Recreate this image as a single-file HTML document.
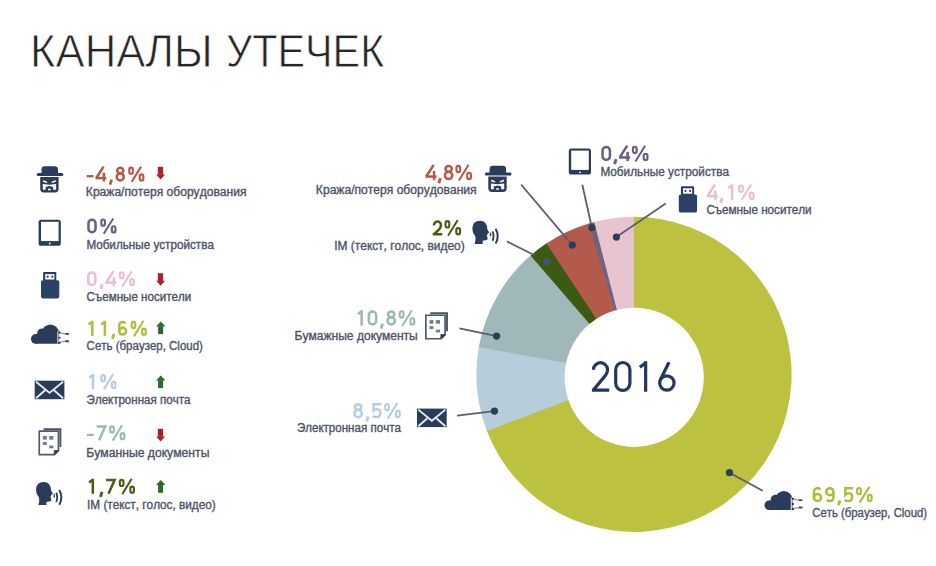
<!DOCTYPE html>
<html><head><meta charset="utf-8"><style>
html,body{margin:0;padding:0;background:#fff;width:936px;height:566px;overflow:hidden}
body{position:relative;font-family:"Liberation Sans",sans-serif}
text{font-kerning:none}
</style></head><body>
<svg width="936" height="566" viewBox="0 0 936 566" style="position:absolute;left:0;top:0" font-family="Liberation Sans, sans-serif">
<rect width="936" height="566" fill="#fff"/>
<text x="30.12" y="67.10" font-size="46.8" font-weight="400" fill="#262626" textLength="182.57" lengthAdjust="spacingAndGlyphs" stroke="#fff" stroke-width="0.8">КАНАЛЫ</text>
<text x="225.89" y="67.10" font-size="46.8" font-weight="400" fill="#262626" textLength="158.45" lengthAdjust="spacingAndGlyphs" stroke="#fff" stroke-width="0.8">УТЕЧЕК</text>
<g>
<path d="M633.80,375.20 L632.694,216.805 A157.6,157.6 0 1 1 486.523,429.972 Z" fill="#bcc13f"/>
<path d="M633.80,375.20 L486.913,430.997 A157.6,157.6 0 0 1 478.965,346.083 Z" fill="#b7cddc"/>
<path d="M633.80,375.20 L478.771,347.166 A157.6,157.6 0 0 1 531.346,254.817 Z" fill="#a0b8b9"/>
<path d="M633.80,375.20 L530.512,255.539 A157.6,157.6 0 0 1 547.313,242.782 Z" fill="#3d5a12"/>
<path d="M633.80,375.20 L546.393,243.393 A157.6,157.6 0 0 1 589.632,223.174 Z" fill="#b35a4b"/>
<path d="M633.80,375.20 L588.573,223.489 A157.6,157.6 0 0 1 595.229,221.643 Z" fill="#6e6482"/>
<path d="M633.80,375.20 L594.159,221.919 A157.6,157.6 0 0 1 633.800,216.800 Z" fill="#e8c4d0"/>
</g>
<circle cx="634.2" cy="377.3" r="69.6" fill="#fff"/>
<g fill="none" stroke="#25375a" stroke-width="3.2">
<path d="M593.4,369.8 A7.1,7.1 0 0 1 607.6,369.8 C607.6,372.4 606.7,373.9 605.4,375.6 L593.3,390.1 M591.9,390.1 H609.2"/>
<rect x="615.7" y="362.5" width="14.2" height="27.9" rx="7.1"/>
<path d="M645.65,361.3 V391.7 M645.65,362.9 L639.8,367.3"/>
<circle cx="666.85" cy="383.0" r="7.2"/>
<path d="M660.4,379.8 L669.0,362.2"/>
</g>
<line x1="521.1" y1="184.5" x2="572.3" y2="245.2" stroke="#5a5e72" stroke-width="1.8"/>
<line x1="582.3" y1="184.8" x2="591.9" y2="227.7" stroke="#5a5e72" stroke-width="1.8"/>
<line x1="665.7" y1="203.6" x2="616.4" y2="237.1" stroke="#5a5e72" stroke-width="1.8"/>
<line x1="506.9" y1="241.4" x2="534.5" y2="255.2" stroke="#5a5e72" stroke-width="1.8"/>
<line x1="459.5" y1="328.4" x2="496.6" y2="336.1" stroke="#5a5e72" stroke-width="1.8"/>
<line x1="457.0" y1="415.6" x2="494.5" y2="411.1" stroke="#5a5e72" stroke-width="1.8"/>
<line x1="762.7" y1="490.7" x2="729.5" y2="472.7" stroke="#5a5e72" stroke-width="1.8"/>
<circle cx="572.3" cy="245.2" r="3.6" fill="#2d3f58"/>
<circle cx="591.9" cy="227.7" r="3.6" fill="#2d3f58"/>
<circle cx="616.4" cy="237.1" r="3.6" fill="#2d3f58"/>
<circle cx="546.9" cy="261.4" r="3.6" fill="#40527e"/>
<circle cx="496.6" cy="336.1" r="3.6" fill="#2d3f58"/>
<circle cx="494.5" cy="411.1" r="3.6" fill="#2d3f58"/>
<circle cx="729.5" cy="472.7" r="3.6" fill="#2d3f58"/>
<g fill="none" stroke="#b5584a" stroke-width="0.1623"><g transform="translate(425.50,180.20) scale(15.400)"><path d="M0.53,-1 L0.0487,-0.24"/><path d="M0,-0.235 H0.7200"/><path d="M0.555,-0.6 V0"/></g><g transform="translate(438.07,180.20) scale(15.400)"><path d="M0.15,-0.13 L0.05,0.2" stroke-width="0.1867"/></g><g transform="translate(443.69,180.20) scale(15.400)"><ellipse cx="0.3200" cy="-0.7350" rx="0.2050" ry="0.1850"/><ellipse cx="0.3200" cy="-0.3100" rx="0.2388" ry="0.2350"/></g><g transform="translate(455.37,180.20) scale(15.400)"><rect x="0.0690" y="-0.9310" width="0.2420" height="0.4120" rx="0.1210" stroke-width="0.1380"/><rect x="0.7690" y="-0.4810" width="0.2420" height="0.4120" rx="0.1210" stroke-width="0.1380"/><path d="M0.86,-1.0 L0.23,0.02" stroke-width="0.1299"/></g></g>
<text x="315.88" y="193.50" font-size="12" font-weight="400" fill="#4b5264" stroke="#4b5264" stroke-width="0.35" textLength="160.78" lengthAdjust="spacingAndGlyphs">Кража/потеря оборудования</text>
<g fill="none" stroke="#6c5d78" stroke-width="0.1623"><g transform="translate(601.30,161.10) scale(15.400)"><rect x="0.0812" y="-0.9188" width="0.4777" height="0.8377" rx="0.2388"/></g><g transform="translate(613.81,161.10) scale(15.400)"><path d="M0.15,-0.13 L0.05,0.2" stroke-width="0.1867"/></g><g transform="translate(619.05,161.10) scale(15.400)"><path d="M0.53,-1 L0.0487,-0.24"/><path d="M0,-0.235 H0.7200"/><path d="M0.555,-0.6 V0"/></g><g transform="translate(631.87,161.10) scale(15.400)"><rect x="0.0690" y="-0.9310" width="0.2420" height="0.4120" rx="0.1210" stroke-width="0.1380"/><rect x="0.7690" y="-0.4810" width="0.2420" height="0.4120" rx="0.1210" stroke-width="0.1380"/><path d="M0.86,-1.0 L0.23,0.02" stroke-width="0.1299"/></g></g>
<text x="600.51" y="175.50" font-size="12" font-weight="400" fill="#4b5264" stroke="#4b5264" stroke-width="0.35" textLength="128.52" lengthAdjust="spacingAndGlyphs">Мобильные устройства</text>
<g fill="none" stroke="#e9bfcb" stroke-width="0.1623"><g transform="translate(706.80,199.90) scale(15.400)"><path d="M0.53,-1 L0.0487,-0.24"/><path d="M0,-0.235 H0.7200"/><path d="M0.555,-0.6 V0"/></g><g transform="translate(719.92,199.90) scale(15.400)"><path d="M0.15,-0.13 L0.05,0.2" stroke-width="0.1867"/></g><g transform="translate(727.63,199.90) scale(15.400)"><path d="M0.2888,-1 V0"/><path d="M0.2888,-0.9351 L0.04,-0.75"/></g><g transform="translate(737.97,199.90) scale(15.400)"><rect x="0.0690" y="-0.9310" width="0.2420" height="0.4120" rx="0.1210" stroke-width="0.1380"/><rect x="0.7690" y="-0.4810" width="0.2420" height="0.4120" rx="0.1210" stroke-width="0.1380"/><path d="M0.86,-1.0 L0.23,0.02" stroke-width="0.1299"/></g></g>
<text x="706.38" y="214.30" font-size="12" font-weight="400" fill="#4b5264" stroke="#4b5264" stroke-width="0.35" textLength="105.25" lengthAdjust="spacingAndGlyphs">Съемные носители</text>
<g fill="none" stroke="#4a5c14" stroke-width="0.1623"><g transform="translate(432.70,235.50) scale(15.400)"><path d="M0.0812,-0.6600 A0.2288,0.2288 0 0 1 0.5388,-0.6900 C0.5388,-0.5700 0.5088,-0.5000 0.4488,-0.4300 L0.0912,-0.0812"/><path d="M0,-0.0812 H0.6200"/></g><g transform="translate(444.47,235.50) scale(15.400)"><rect x="0.0690" y="-0.9310" width="0.2420" height="0.4120" rx="0.1210" stroke-width="0.1380"/><rect x="0.7690" y="-0.4810" width="0.2420" height="0.4120" rx="0.1210" stroke-width="0.1380"/><path d="M0.86,-1.0 L0.23,0.02" stroke-width="0.1299"/></g></g>
<text x="334.27" y="249.80" font-size="12" font-weight="400" fill="#4b5264" stroke="#4b5264" stroke-width="0.35" textLength="130.39" lengthAdjust="spacingAndGlyphs">IM (текст, голос, видео)</text>
<g fill="none" stroke="#9bb8b1" stroke-width="0.1623"><g transform="translate(357.20,325.60) scale(15.400)"><path d="M0.2888,-1 V0"/><path d="M0.2888,-0.9351 L0.04,-0.75"/></g><g transform="translate(367.57,325.60) scale(15.400)"><rect x="0.0812" y="-0.9188" width="0.4777" height="0.8377" rx="0.2388"/></g><g transform="translate(380.29,325.60) scale(15.400)"><path d="M0.15,-0.13 L0.05,0.2" stroke-width="0.1867"/></g><g transform="translate(386.26,325.60) scale(15.400)"><ellipse cx="0.3200" cy="-0.7350" rx="0.2050" ry="0.1850"/><ellipse cx="0.3200" cy="-0.3100" rx="0.2388" ry="0.2350"/></g><g transform="translate(398.67,325.60) scale(15.400)"><rect x="0.0690" y="-0.9310" width="0.2420" height="0.4120" rx="0.1210" stroke-width="0.1380"/><rect x="0.7690" y="-0.4810" width="0.2420" height="0.4120" rx="0.1210" stroke-width="0.1380"/><path d="M0.86,-1.0 L0.23,0.02" stroke-width="0.1299"/></g></g>
<text x="294.59" y="340.00" font-size="12" font-weight="400" fill="#4b5264" stroke="#4b5264" stroke-width="0.35" textLength="123.17" lengthAdjust="spacingAndGlyphs">Бумажные документы</text>
<g fill="none" stroke="#b5cde0" stroke-width="0.1623"><g transform="translate(353.20,418.30) scale(15.400)"><ellipse cx="0.3200" cy="-0.7350" rx="0.2050" ry="0.1850"/><ellipse cx="0.3200" cy="-0.3100" rx="0.2388" ry="0.2350"/></g><g transform="translate(365.87,418.30) scale(15.400)"><path d="M0.15,-0.13 L0.05,0.2" stroke-width="0.1867"/></g><g transform="translate(371.97,418.30) scale(15.400)"><path d="M0.6000,-0.9188 H0.1012 V-0.5 C0.16,-0.57 0.24,-0.595 0.33,-0.595 C0.5288,-0.595 0.5388,-0.48 0.5388,-0.33 C0.5388,-0.15 0.46,-0.0812 0.3,-0.0812 C0.2,-0.0812 0.11,-0.1 0.05,-0.16"/></g><g transform="translate(384.17,418.30) scale(15.400)"><rect x="0.0690" y="-0.9310" width="0.2420" height="0.4120" rx="0.1210" stroke-width="0.1380"/><rect x="0.7690" y="-0.4810" width="0.2420" height="0.4120" rx="0.1210" stroke-width="0.1380"/><path d="M0.86,-1.0 L0.23,0.02" stroke-width="0.1299"/></g></g>
<text x="296.88" y="432.00" font-size="12" font-weight="400" fill="#4b5264" stroke="#4b5264" stroke-width="0.35" textLength="104.14" lengthAdjust="spacingAndGlyphs">Электронная почта</text>
<g fill="none" stroke="#b0bb3a" stroke-width="0.1623"><g transform="translate(812.70,502.30) scale(15.400)"><path d="M0.4993,-0.8290 A0.2338,0.2338 0 0 0 0.0812,-0.6850 V-0.3150"/><rect x="0.0812" y="-0.5388" width="0.4677" height="0.4577" rx="0.2338"/></g><g transform="translate(824.98,502.30) scale(15.400)"><path d="M0.1307,-0.1710 A0.2338,0.2338 0 0 0 0.5488,-0.3150 V-0.6850"/><rect x="0.0812" y="-0.9188" width="0.4677" height="0.4577" rx="0.2338"/></g><g transform="translate(837.65,502.30) scale(15.400)"><path d="M0.15,-0.13 L0.05,0.2" stroke-width="0.1867"/></g><g transform="translate(843.79,502.30) scale(15.400)"><path d="M0.6000,-0.9188 H0.1012 V-0.5 C0.16,-0.57 0.24,-0.595 0.33,-0.595 C0.5288,-0.595 0.5388,-0.48 0.5388,-0.33 C0.5388,-0.15 0.46,-0.0812 0.3,-0.0812 C0.2,-0.0812 0.11,-0.1 0.05,-0.16"/></g><g transform="translate(856.07,502.30) scale(15.400)"><rect x="0.0690" y="-0.9310" width="0.2420" height="0.4120" rx="0.1210" stroke-width="0.1380"/><rect x="0.7690" y="-0.4810" width="0.2420" height="0.4120" rx="0.1210" stroke-width="0.1380"/><path d="M0.86,-1.0 L0.23,0.02" stroke-width="0.1299"/></g></g>
<text x="812.30" y="517.00" font-size="12" font-weight="400" fill="#4b5264" stroke="#4b5264" stroke-width="0.35" textLength="114.73" lengthAdjust="spacingAndGlyphs">Сеть (браузер, Cloud)</text>
<g fill="none" stroke="#b5584a" stroke-width="0.1667"><g transform="translate(86.70,181.60) scale(15.000)"><path d="M0,-0.36 H0.45" stroke-width="0.1500"/></g><g transform="translate(95.58,181.60) scale(15.000)"><path d="M0.53,-1 L0.0500,-0.24"/><path d="M0,-0.235 H0.7200"/><path d="M0.555,-0.6 V0"/></g><g transform="translate(109.31,181.60) scale(15.000)"><path d="M0.15,-0.13 L0.05,0.2" stroke-width="0.1917"/></g><g transform="translate(115.44,181.60) scale(15.000)"><ellipse cx="0.3200" cy="-0.7350" rx="0.2050" ry="0.1850"/><ellipse cx="0.3200" cy="-0.3100" rx="0.2367" ry="0.2350"/></g><g transform="translate(128.20,181.60) scale(15.000)"><rect x="0.0708" y="-0.9292" width="0.2383" height="0.4083" rx="0.1192" stroke-width="0.1417"/><rect x="0.7708" y="-0.4792" width="0.2383" height="0.4083" rx="0.1192" stroke-width="0.1417"/><path d="M0.86,-1.0 L0.23,0.02" stroke-width="0.1333"/></g></g>
<text x="85.89" y="195.70" font-size="12" font-weight="400" fill="#4b5264" stroke="#4b5264" stroke-width="0.35" textLength="160.58" lengthAdjust="spacingAndGlyphs">Кража/потеря оборудования</text>
<g fill="#a9232f"><rect x="157.8" y="166.80" width="5.3" height="8.0"/><path d="M156.1,174.40 L165.1,174.40 L160.6,179.40 Z"/></g>
<g fill="none" stroke="#6c5d78" stroke-width="0.1667"><g transform="translate(87.20,233.50) scale(15.000)"><rect x="0.0833" y="-0.9167" width="0.4733" height="0.8333" rx="0.2367"/></g><g transform="translate(100.30,233.50) scale(15.000)"><rect x="0.0708" y="-0.9292" width="0.2383" height="0.4083" rx="0.1192" stroke-width="0.1417"/><rect x="0.7708" y="-0.4792" width="0.2383" height="0.4083" rx="0.1192" stroke-width="0.1417"/><path d="M0.86,-1.0 L0.23,0.02" stroke-width="0.1333"/></g></g>
<text x="86.42" y="249.20" font-size="12" font-weight="400" fill="#4b5264" stroke="#4b5264" stroke-width="0.35" textLength="127.51" lengthAdjust="spacingAndGlyphs">Мобильные устройства</text>
<g fill="none" stroke="#e9bfcb" stroke-width="0.1667"><g transform="translate(87.00,286.20) scale(15.000)"><rect x="0.0833" y="-0.9167" width="0.4733" height="0.8333" rx="0.2367"/></g><g transform="translate(100.01,286.20) scale(15.000)"><path d="M0.15,-0.13 L0.05,0.2" stroke-width="0.1917"/></g><g transform="translate(105.47,286.20) scale(15.000)"><path d="M0.53,-1 L0.0500,-0.24"/><path d="M0,-0.235 H0.7200"/><path d="M0.555,-0.6 V0"/></g><g transform="translate(118.80,286.20) scale(15.000)"><rect x="0.0708" y="-0.9292" width="0.2383" height="0.4083" rx="0.1192" stroke-width="0.1417"/><rect x="0.7708" y="-0.4792" width="0.2383" height="0.4083" rx="0.1192" stroke-width="0.1417"/><path d="M0.86,-1.0 L0.23,0.02" stroke-width="0.1333"/></g></g>
<text x="86.59" y="301.00" font-size="12" font-weight="400" fill="#4b5264" stroke="#4b5264" stroke-width="0.35" textLength="104.64" lengthAdjust="spacingAndGlyphs">Съемные носители</text>
<g fill="#a9232f"><rect x="157.8" y="273.20" width="5.3" height="8.0"/><path d="M156.1,280.80 L165.1,280.80 L160.6,285.80 Z"/></g>
<g fill="none" stroke="#b0bb3a" stroke-width="0.1667"><g transform="translate(88.00,335.80) scale(15.000)"><path d="M0.2867,-1 V0"/><path d="M0.2867,-0.9333 L0.04,-0.75"/></g><g transform="translate(100.59,335.80) scale(15.000)"><path d="M0.2867,-1 V0"/><path d="M0.2867,-0.9333 L0.04,-0.75"/></g><g transform="translate(111.72,335.80) scale(15.000)"><path d="M0.15,-0.13 L0.05,0.2" stroke-width="0.1917"/></g><g transform="translate(117.93,335.80) scale(15.000)"><path d="M0.4976,-0.8276 A0.2317,0.2317 0 0 0 0.0833,-0.6850 V-0.3150"/><rect x="0.0833" y="-0.5367" width="0.4633" height="0.4533" rx="0.2317"/></g><g transform="translate(130.60,335.80) scale(15.000)"><rect x="0.0708" y="-0.9292" width="0.2383" height="0.4083" rx="0.1192" stroke-width="0.1417"/><rect x="0.7708" y="-0.4792" width="0.2383" height="0.4083" rx="0.1192" stroke-width="0.1417"/><path d="M0.86,-1.0 L0.23,0.02" stroke-width="0.1333"/></g></g>
<text x="86.59" y="350.00" font-size="12" font-weight="400" fill="#4b5264" stroke="#4b5264" stroke-width="0.35" textLength="116.35" lengthAdjust="spacingAndGlyphs">Сеть (браузер, Cloud)</text>
<g fill="#2b6a2c"><path d="M160.7,321.40 L165.5,326.40 L156.0,326.40 Z"/><rect x="158.1" y="326.20" width="5.0" height="7.9"/></g>
<g fill="none" stroke="#b5cde0" stroke-width="0.1667"><g transform="translate(88.70,389.10) scale(15.000)"><path d="M0.2867,-1 V0"/><path d="M0.2867,-0.9333 L0.04,-0.75"/></g><g transform="translate(100.30,389.10) scale(15.000)"><rect x="0.0708" y="-0.9292" width="0.2383" height="0.4083" rx="0.1192" stroke-width="0.1417"/><rect x="0.7708" y="-0.4792" width="0.2383" height="0.4083" rx="0.1192" stroke-width="0.1417"/><path d="M0.86,-1.0 L0.23,0.02" stroke-width="0.1333"/></g></g>
<text x="86.58" y="403.60" font-size="12" font-weight="400" fill="#4b5264" stroke="#4b5264" stroke-width="0.35" textLength="103.84" lengthAdjust="spacingAndGlyphs">Электронная почта</text>
<g fill="#2b6a2c"><path d="M160.7,375.40 L165.5,380.40 L156.0,380.40 Z"/><rect x="158.1" y="380.20" width="5.0" height="7.9"/></g>
<g fill="none" stroke="#9bb8b1" stroke-width="0.1667"><g transform="translate(87.00,440.30) scale(15.000)"><path d="M0,-0.36 H0.45" stroke-width="0.1500"/></g><g transform="translate(96.65,440.30) scale(15.000)"><path d="M0,-0.9167 H0.5700 L0.16,0"/></g><g transform="translate(109.20,440.30) scale(15.000)"><rect x="0.0708" y="-0.9292" width="0.2383" height="0.4083" rx="0.1192" stroke-width="0.1417"/><rect x="0.7708" y="-0.4792" width="0.2383" height="0.4083" rx="0.1192" stroke-width="0.1417"/><path d="M0.86,-1.0 L0.23,0.02" stroke-width="0.1333"/></g></g>
<text x="86.17" y="457.00" font-size="12" font-weight="400" fill="#4b5264" stroke="#4b5264" stroke-width="0.35" textLength="123.30" lengthAdjust="spacingAndGlyphs">Буманные документы</text>
<g fill="#a9232f"><rect x="157.8" y="428.80" width="5.3" height="8.0"/><path d="M156.1,436.40 L165.1,436.40 L160.6,441.40 Z"/></g>
<g fill="none" stroke="#4a5c14" stroke-width="0.1667"><g transform="translate(88.50,493.80) scale(15.000)"><path d="M0.2867,-1 V0"/><path d="M0.2867,-0.9333 L0.04,-0.75"/></g><g transform="translate(99.74,493.80) scale(15.000)"><path d="M0.15,-0.13 L0.05,0.2" stroke-width="0.1917"/></g><g transform="translate(106.09,493.80) scale(15.000)"><path d="M0,-0.9167 H0.5700 L0.16,0"/></g><g transform="translate(118.80,493.80) scale(15.000)"><rect x="0.0708" y="-0.9292" width="0.2383" height="0.4083" rx="0.1192" stroke-width="0.1417"/><rect x="0.7708" y="-0.4792" width="0.2383" height="0.4083" rx="0.1192" stroke-width="0.1417"/><path d="M0.86,-1.0 L0.23,0.02" stroke-width="0.1333"/></g></g>
<text x="87.09" y="509.20" font-size="12" font-weight="400" fill="#4b5264" stroke="#4b5264" stroke-width="0.35" textLength="128.67" lengthAdjust="spacingAndGlyphs">IM (текст, голос, видео)</text>
<g fill="#2b6a2c"><path d="M160.7,480.10 L165.5,485.10 L156.0,485.10 Z"/><rect x="158.1" y="484.90" width="5.0" height="7.9"/></g>
<g transform="translate(0,0)" fill="#2a3c5a">
<path d="M489.6,173.6 L489.6,169 Q489.6,165.7 493,165.7 L502.7,165.7 Q506.1,165.7 506.1,169 L506.1,173.6 Z"/>
<rect x="484.8" y="172.4" width="26.7" height="3.0" rx="1.5"/>
<path d="M488.3,176.6 L506.7,176.6 L506.7,188.3 Q506.7,191.9 503.1,191.9 L491.9,191.9 Q488.3,191.9 488.3,188.3 Z"/>
<path d="M491.2,179.6 L495.2,181.2 L495.2,182.6 L491.2,181.6 Z" fill="#fff"/>
<path d="M503.8,179.6 L499.8,181.2 L499.8,182.6 L503.8,181.6 Z" fill="#fff"/>
<path d="M490.9,183.4 L497.5,184.2 L504.2,183.4 L504.2,189.2 L501.2,189.2 L501.2,186.6 L497.5,185.6 L493.8,186.6 L493.8,189.2 L490.9,189.2 Z" fill="#fff"/>
<rect x="496.2" y="188.2" width="2.6" height="1.6" fill="#fff"/>
</g>
<g transform="translate(0,0)">
<rect x="568.8" y="148.5" width="22.2" height="26.1" rx="2.6" fill="#2a3c5a"/>
<rect x="571.2" y="150.6" width="17.6" height="19.3" fill="#fff"/>
<circle cx="579.9" cy="172.3" r="0.9" fill="#fff"/>
</g>
<g transform="translate(0,0)" fill="#2a3c5a">
<rect x="680.9" y="186.2" width="13.2" height="9" rx="0.8"/>
<rect x="683.0" y="188.3" width="9.2" height="5.4" fill="#fff"/>
<circle cx="685.5" cy="190.9" r="1.1"/>
<circle cx="690.1" cy="190.9" r="1.1"/>
<rect x="678.8" y="194.4" width="18.3" height="18.2" rx="1.8" fill="#2b4165"/>
</g>
<g transform="translate(0,0)">
<g fill="#2a3c5a">
<circle cx="769.3" cy="505.25" r="4.85"/>
<circle cx="775.6" cy="499.6" r="4.9"/>
<circle cx="783.8" cy="499.5" r="8.6"/>
<path d="M769.3,500.4 L792.6,500.4 L792.6,509.2 Q792.6,510.1 791.7,510.1 L769.3,510.1 Z"/>
</g>
<rect x="790.7" y="497.6" width="1.5" height="12.4" fill="#c3d0e0"/>
<g fill="#222b38"><rect x="791.9" y="497.8" width="2.0" height="2.0"/><rect x="791.9" y="503.1" width="2.0" height="1.8"/><rect x="791.9" y="508.1" width="2.0" height="2.0"/></g>
<path d="M793.5,499.2 L798.5,500.2 M793.5,508.6 L798.5,507.5" stroke="#6a7080" stroke-width="0.9" fill="none"/>
<g fill="#3a4458"><rect x="798.6" y="499.2" width="3.9" height="1.9" rx="0.6"/><rect x="798.6" y="506.6" width="3.9" height="1.9" rx="0.6"/></g>
</g>
<g transform="translate(0,0)">
<rect x="417" y="408.6" width="29.7" height="18.5" fill="#2a3c5a"/>
<path d="M418.3,409.6 L431.85,420.8 L445.4,409.6" stroke="#e6eef6" stroke-width="1.8" fill="none"/>
<path d="M418.3,426.2 L427.4,418.2 M445.4,426.2 L436.3,418.2" stroke="#e6eef6" stroke-width="1.8" fill="none"/>
</g>
<g transform="translate(0,0)">
<path d="M430.2,313.3 H447.0 V331.2" stroke="#4a5366" stroke-width="1.9" fill="none"/>
<path d="M425.85,315.25 H445.05 V334.8 L441.1,338.75 H425.85 Z" stroke="#505a6c" stroke-width="1.7" fill="#fff"/>
<path d="M445.05,334.6 L440.9,334.6 L440.9,338.75 Z" fill="#2f3a4e" stroke="#2f3a4e" stroke-width="0.8"/>
<g fill="#737a88">
<rect x="429.5" y="320.1" width="3.9" height="3.6"/><rect x="435.8" y="320.1" width="4.2" height="3.6"/>
<rect x="429.5" y="326.1" width="3.9" height="3.0"/><rect x="435.8" y="329.7" width="4.2" height="2.7"/>
</g>
</g>
<g transform="translate(0,0)">
<path fill="#2a3c5a" d="M474.6,243.9 L482.8,243.9 L482.6,240.7 L486.6,240.0 Q487.8,239.6 487.6,238.2 L487.3,236.8 L486.6,235.5 L487.8,234.6 L487.2,233.8 L489.3,232.6 L487.4,229.4 Q487.0,221.0 480.2,220.8 Q472.3,220.8 472.3,229.0 Q472.6,233.6 475.4,236.6 Q476.0,240.8 474.6,243.9 Z"/>
<path d="M490.3,232.7 Q491.0,234.5 490.3,236.3" stroke="#3a4456" stroke-width="1.4" fill="none"/>
<path d="M492.5,231.4 Q494.6,236.1 492.5,240.8" stroke="#2a3c5a" stroke-width="1.8" fill="none"/>
<path d="M495.6,228.8 Q499.8,236.2 495.6,243.6" stroke="#2a3c5a" stroke-width="2" fill="none"/>
</g>
<g transform="translate(-448.1,0.5)" fill="#2a3c5a">
<path d="M489.6,173.6 L489.6,169 Q489.6,165.7 493,165.7 L502.7,165.7 Q506.1,165.7 506.1,169 L506.1,173.6 Z"/>
<rect x="484.8" y="172.4" width="26.7" height="3.0" rx="1.5"/>
<path d="M488.3,176.6 L506.7,176.6 L506.7,188.3 Q506.7,191.9 503.1,191.9 L491.9,191.9 Q488.3,191.9 488.3,188.3 Z"/>
<path d="M491.2,179.6 L495.2,181.2 L495.2,182.6 L491.2,181.6 Z" fill="#fff"/>
<path d="M503.8,179.6 L499.8,181.2 L499.8,182.6 L503.8,181.6 Z" fill="#fff"/>
<path d="M490.9,183.4 L497.5,184.2 L504.2,183.4 L504.2,189.2 L501.2,189.2 L501.2,186.6 L497.5,185.6 L493.8,186.6 L493.8,189.2 L490.9,189.2 Z" fill="#fff"/>
<rect x="496.2" y="188.2" width="2.6" height="1.6" fill="#fff"/>
</g>
<g transform="translate(-530.2,71.2)">
<rect x="568.8" y="148.5" width="22.2" height="26.1" rx="2.6" fill="#2a3c5a"/>
<rect x="571.2" y="150.6" width="17.6" height="19.3" fill="#fff"/>
<circle cx="579.9" cy="172.3" r="0.9" fill="#fff"/>
</g>
<g transform="translate(-637.8,85.8)" fill="#2a3c5a">
<rect x="680.9" y="186.2" width="13.2" height="9" rx="0.8"/>
<rect x="683.0" y="188.3" width="9.2" height="5.4" fill="#fff"/>
<circle cx="685.5" cy="190.9" r="1.1"/>
<circle cx="690.1" cy="190.9" r="1.1"/>
<rect x="678.8" y="194.4" width="18.3" height="18.2" rx="1.8" fill="#2b4165"/>
</g>
<g transform="translate(-733.5,-166.3)">
<g fill="#2a3c5a">
<circle cx="769.3" cy="505.25" r="4.85"/>
<circle cx="775.6" cy="499.6" r="4.9"/>
<circle cx="783.8" cy="499.5" r="8.6"/>
<path d="M769.3,500.4 L792.6,500.4 L792.6,509.2 Q792.6,510.1 791.7,510.1 L769.3,510.1 Z"/>
</g>
<rect x="790.7" y="497.6" width="1.5" height="12.4" fill="#c3d0e0"/>
<g fill="#222b38"><rect x="791.9" y="497.8" width="2.0" height="2.0"/><rect x="791.9" y="503.1" width="2.0" height="1.8"/><rect x="791.9" y="508.1" width="2.0" height="2.0"/></g>
<path d="M793.5,499.2 L798.5,500.2 M793.5,508.6 L798.5,507.5" stroke="#6a7080" stroke-width="0.9" fill="none"/>
<g fill="#3a4458"><rect x="798.6" y="499.2" width="3.9" height="1.9" rx="0.6"/><rect x="798.6" y="506.6" width="3.9" height="1.9" rx="0.6"/></g>
</g>
<g transform="translate(-382.3,-27.9)">
<rect x="417" y="408.6" width="29.7" height="18.5" fill="#2a3c5a"/>
<path d="M418.3,409.6 L431.85,420.8 L445.4,409.6" stroke="#e6eef6" stroke-width="1.8" fill="none"/>
<path d="M418.3,426.2 L427.4,418.2 M445.4,426.2 L436.3,418.2" stroke="#e6eef6" stroke-width="1.8" fill="none"/>
</g>
<g transform="translate(-386.6,115.9)">
<path d="M430.2,313.3 H447.0 V331.2" stroke="#4a5366" stroke-width="1.9" fill="none"/>
<path d="M425.85,315.25 H445.05 V334.8 L441.1,338.75 H425.85 Z" stroke="#505a6c" stroke-width="1.7" fill="#fff"/>
<path d="M445.05,334.6 L440.9,334.6 L440.9,338.75 Z" fill="#2f3a4e" stroke="#2f3a4e" stroke-width="0.8"/>
<g fill="#737a88">
<rect x="429.5" y="320.1" width="3.9" height="3.6"/><rect x="435.8" y="320.1" width="4.2" height="3.6"/>
<rect x="429.5" y="326.1" width="3.9" height="3.0"/><rect x="435.8" y="329.7" width="4.2" height="2.7"/>
</g>
</g>
<g transform="translate(-436.3,261.2)">
<path fill="#2a3c5a" d="M474.6,243.9 L482.8,243.9 L482.6,240.7 L486.6,240.0 Q487.8,239.6 487.6,238.2 L487.3,236.8 L486.6,235.5 L487.8,234.6 L487.2,233.8 L489.3,232.6 L487.4,229.4 Q487.0,221.0 480.2,220.8 Q472.3,220.8 472.3,229.0 Q472.6,233.6 475.4,236.6 Q476.0,240.8 474.6,243.9 Z"/>
<path d="M490.3,232.7 Q491.0,234.5 490.3,236.3" stroke="#3a4456" stroke-width="1.4" fill="none"/>
<path d="M492.5,231.4 Q494.6,236.1 492.5,240.8" stroke="#2a3c5a" stroke-width="1.8" fill="none"/>
<path d="M495.6,228.8 Q499.8,236.2 495.6,243.6" stroke="#2a3c5a" stroke-width="2" fill="none"/>
</g>
</svg>
</body></html>
